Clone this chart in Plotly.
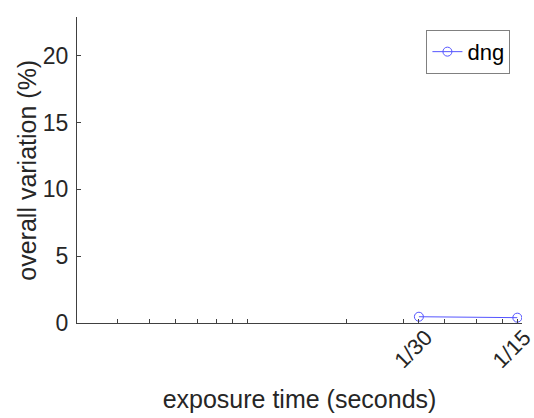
import math
import plotly.graph_objects as go

# data
exposure = [1/30, 1/15]
variation = [0.47, 0.40]
series_name = "dng"

# axis ticks
x_tick_vals = [0.004, 0.005, 0.006, 0.007, 0.008, 0.009, 0.01, 0.02, 0.03, 1/30, 0.04, 0.05, 0.06, 1/15]
x_tick_text = ["", "", "", "", "", "", "", "", "", "1/30", "", "", "", "1/15"]
y_tick_vals = [0, 5, 10, 15, 20]

x_range = [0.003, 0.0689]
y_range = [0, 22.9]

x_title = "exposure time (seconds)"
y_title = "overall variation (%)"

font_family = "Arial, 'Liberation Sans', sans-serif"
axis_color = "#404040"
text_color = "#262626"
line_color = "rgb(85,85,255)"

fig = go.Figure()
fig.add_trace(go.Scatter(
    x=exposure, y=variation, name=series_name, mode="lines+markers",
    line=dict(color=line_color, width=1),
    marker=dict(symbol="circle-open", size=9, color=line_color, line=dict(width=1)),
))

fig.update_layout(
    width=534, height=418,
    margin=dict(l=77, r=12, t=17, b=95, autoexpand=False),
    paper_bgcolor="white", plot_bgcolor="white",
    font=dict(family=font_family, size=22, color=text_color),
    showlegend=True,
    legend=dict(x=0.974, y=0.958, xanchor="right", yanchor="top",
                bordercolor="#808080", borderwidth=1, bgcolor="white",
                font=dict(size=22, color="black")),
    xaxis=dict(
        type="log", range=[math.log10(x_range[0]), math.log10(x_range[1])],
        tickmode="array", tickvals=x_tick_vals, ticktext=x_tick_text,
        tickangle=-45, ticks="inside", ticklen=4, tickcolor=axis_color,
        ticklabelshift=7, ticklabelstandoff=-8, ticklabeloverflow="allow",
        automargin=False,
        showline=True, linecolor=axis_color, linewidth=1, showgrid=False, zeroline=False,
        title=dict(text=x_title, font=dict(size=25, color=text_color), standoff=18),
        tickfont=dict(size=22, color=text_color),
    ),
    yaxis=dict(
        range=y_range, tickmode="array", tickvals=y_tick_vals,
        ticks="inside", ticklen=4, tickcolor=axis_color, ticklabelstandoff=3,
        automargin=False,
        showline=True, linecolor=axis_color, linewidth=1, showgrid=False, zeroline=False,
        tickfont=dict(size=23, color=text_color),
    ),
    annotations=[dict(
        text=y_title, xref="paper", yref="paper", x=-0.113, y=0.5,
        xanchor="center", yanchor="middle", textangle=-90, showarrow=False,
        font=dict(size=25, color=text_color),
    )],
)

fig.write_html("out.html")
